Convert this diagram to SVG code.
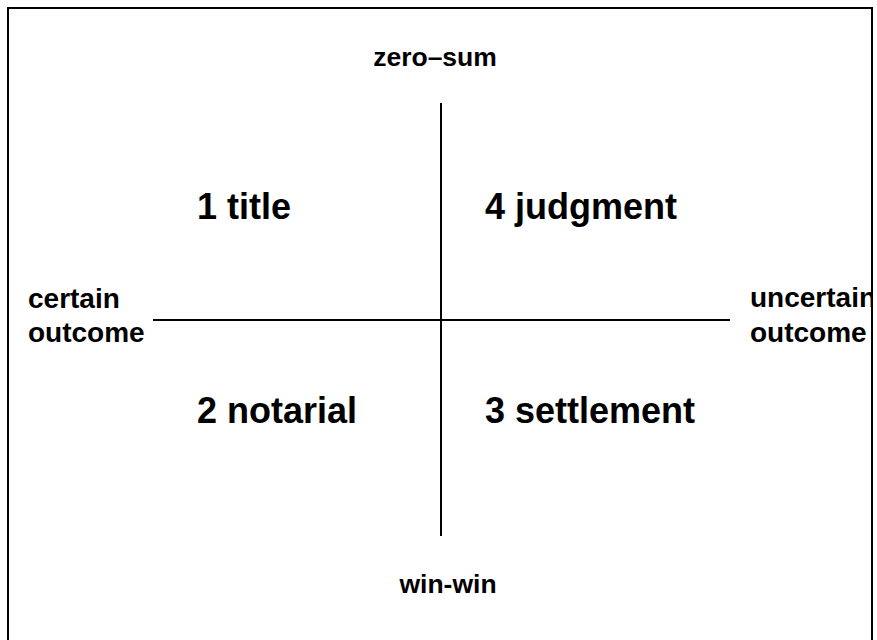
<svg xmlns="http://www.w3.org/2000/svg" width="877" height="640" viewBox="0 0 877 640">
<style>
text{font-family:"Liberation Sans",Arial,sans-serif;font-weight:bold;fill:#000}
.q{font-size:36px}
.a{font-size:28px}
.v{font-size:26.5px}
.ax{stroke:#000;stroke-width:2;fill:none}
</style>
<defs><clipPath id="frameClip"><rect x="8" y="8" width="864" height="640"/></clipPath></defs>
<rect x="0" y="0" width="877" height="640" fill="#fff"/>
<g id="connectors">
<line class="ax" x1="441" y1="103" x2="441" y2="536"/>
<line class="ax" x1="153" y1="320" x2="730" y2="320"/>
</g>
<g clip-path="url(#frameClip)">
<g id="top"><text class="v" x="435" y="66" text-anchor="middle">zero–sum</text></g>
<g id="bottom"><text class="v" x="448" y="593" text-anchor="middle">win-win</text></g>
<g id="left"><text class="a" x="28" y="308">certain</text><text class="a" x="28" y="342">outcome</text></g>
<g id="right"><text class="a" x="750" y="307">uncertain</text><text class="a" x="750" y="342">outcome</text></g>
<g id="q1"><text class="q" x="197" y="219">1 title</text></g>
<g id="q4"><text class="q" x="485" y="219">4 judgment</text></g>
<g id="q2"><text class="q" x="197" y="423">2 notarial</text></g>
<g id="q3"><text class="q" x="485" y="423">3 settlement</text></g>
</g>
<path class="ax" d="M8,645 V8 H872 V645" stroke-width="2.5"/>
</svg>
